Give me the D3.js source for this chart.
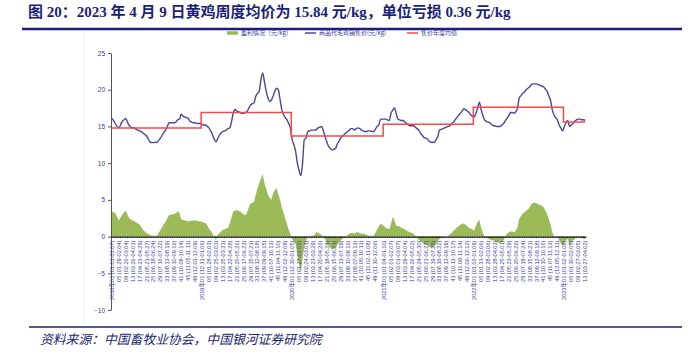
<!DOCTYPE html>
<html>
<head>
<meta charset="utf-8">
<script src="https://cdn.jsdelivr.net/npm/d3@7"></script>
<style>
  body { margin: 0; background: #fff; }
  svg { display: block; }
</style>
</head>
<body>
<svg class="chart"></svg>
<script>
// Weekly data, first week = ISO week 1 of 2018 (Mon 2018-01-01)
var firstMonday = new Date(2018, 0, 1);

// 商品代毛鸡销售价 (元/kg), one value per week
var price = [
  16.1, 15.8, 15.4, 15.0, 14.8, 15.2, 15.7, 15.9, 16.1, 15.6,
  15.1, 14.9, 14.8, 14.8, 14.6, 14.5, 14.4, 14.3, 14.1, 13.9,
  13.7, 13.3, 12.9, 12.8, 12.8, 12.85, 12.85, 13.1, 13.4, 13.8,
  14.2, 14.5, 15.0, 15.5, 15.5, 15.5, 15.5, 15.6, 15.9, 16.0,
  16.7, 16.4, 16.3, 16.2, 16.1, 15.7, 15.6, 15.5, 15.5, 15.4,
  15.4, 15.4, 15.3, 15.2, 15.2, 15.0, 14.8, 14.4, 13.9, 13.3,
  12.9, 13.3, 13.8, 14.1, 14.3, 14.4, 14.5, 14.7, 14.8, 15.6,
  16.8, 17.3, 17.1, 17.0, 16.9, 16.8, 16.8, 16.9, 17.0, 17.5,
  17.9, 18.1, 18.2, 19.1, 19.5, 19.8, 21.4, 22.3, 21.1, 19.8,
  18.9, 18.4, 18.6, 19.1, 19.8, 20.2, 20.0, 18.7, 17.3, 16.6,
  16.2, 15.9, 15.4, 14.8, 13.2, 12.5, 11.6, 10.0, 9.0, 8.3,
  10.0, 13.2, 13.4, 14.3, 14.4, 14.5, 14.5, 14.5, 14.6, 14.8,
  14.9, 15.0, 14.4, 13.6, 12.9, 12.3, 12.0, 11.8, 11.9, 12.0,
  12.6, 13.0, 13.4, 13.7, 13.9, 14.1, 14.3, 14.5, 14.7, 14.7,
  14.5, 14.7, 14.8, 14.7, 14.5, 14.4, 14.3, 14.3, 14.4, 14.4,
  14.3, 14.3, 14.6, 15.0, 15.2, 16.0, 16.0, 16.0, 16.0, 15.9,
  15.8, 16.8, 17.2, 17.5, 16.8, 16.0, 15.9, 15.8, 15.8, 15.6,
  15.4, 15.2, 15.1, 15.1, 15.1, 14.9, 14.7, 14.5, 14.1, 13.8,
  13.5, 13.4, 13.3, 13.0, 12.85, 12.85, 12.85, 13.2, 13.6, 14.5,
  14.6, 14.7, 14.8, 14.9, 15.0, 15.1, 15.4, 15.6, 15.9, 16.2,
  16.5, 16.8, 17.1, 17.4, 17.3, 17.1, 16.9, 16.6, 16.4, 16.3,
  16.8, 17.5, 18.3, 17.3, 16.5, 15.9, 15.7, 15.6, 15.5, 15.3,
  15.1, 15.1, 15.0, 15.0, 15.0, 15.2, 15.4, 15.8, 16.1, 16.5,
  16.9, 16.9, 16.8, 17.0, 17.5, 18.9, 19.2, 19.5, 19.7, 20.0,
  20.2, 20.4, 20.7, 20.8, 20.8, 20.8, 20.7, 20.6, 20.5, 20.4,
  20.1, 19.8, 19.2, 18.6, 17.3, 16.6, 16.2, 15.9, 15.2, 14.8,
  14.4, 15.0, 15.5, 15.8, 15.0, 15.2, 15.4, 15.7, 15.9, 16.0,
  16.0, 15.9, 15.9, 15.84
];

// 盈利情况 (元/kg), one value per week
var profit = [
  3.4, 3.3, 3.2, 2.7, 2.2, 2.6, 3.0, 3.3, 3.5, 3.0,
  2.5, 2.3, 2.2, 2.1, 1.9, 1.8, 1.6, 1.3, 0.9, 0.7,
  0.5, 0.35, 0.2, 0.1, 0.1, 0.1, 0.1, 0.5, 0.9, 1.3,
  1.7, 2.0, 2.5, 2.9, 3.0, 3.0, 3.1, 3.2, 3.4, 3.2,
  2.35, 2.3, 2.2, 2.15, 2.1, 2.1, 2.2, 2.2, 2.2, 2.2,
  2.1, 2.1, 2.0, 1.9, 1.8, 1.5, 1.1, 0.8, 0.45, 0.0,
  -0.5, 0.2, 0.5, 0.7, 0.9, 1.0, 1.1, 1.2, 1.8, 2.6,
  3.4, 3.5, 3.6, 3.5, 3.4, 3.2, 3.0, 2.9, 3.3, 4.0,
  4.5, 4.6, 4.7, 5.7, 6.5, 7.3, 7.9, 8.5, 7.3, 6.5,
  5.7, 5.3, 5.0, 5.9, 6.3, 6.6, 5.8, 5.0, 4.0, 3.2,
  2.5, 1.7, 0.9, 0.3, -0.3, -0.7, -1.0, -2.5, -3.8, -4.8,
  -3.0, -1.4, -0.6, 0.0, 0.0, 0.1, 0.1, 0.2, 0.65, 0.5,
  0.4, 0.2, -0.1, -0.3, -0.8, -1.2, -1.5, -1.8, -1.7, -1.5,
  -1.1, -0.8, -0.5, -0.3, -0.1, 0.0, 0.2, 0.4, 0.5, 0.5,
  0.4, 0.6, 0.6, 0.5, 0.4, 0.4, 0.3, 0.2, 0.1, 0.1,
  0.1, 0.1, 0.5, 1.0, 1.4, 1.75, 1.6, 1.4, 1.2, 1.1,
  1.0, 1.7, 2.7, 2.2, 1.5, 1.4, 1.4, 1.2, 1.1, 1.0,
  0.8, 0.7, 0.6, 0.5, 0.4, 0.1, -0.1, -0.4, -0.6, -0.8,
  -1.0, -1.1, -1.2, -1.4, -1.5, -1.5, -1.3, -1.0, -0.6, -0.3,
  -0.2, -0.1, 0.0, 0.0, 0.1, 0.3, 0.5, 0.8, 1.0, 1.2,
  1.4, 1.6, 1.7, 1.8, 1.6, 1.4, 1.2, 1.1, 1.0, 0.8,
  1.5, 2.0, 2.3, 1.2, 0.5, 0.0, -0.2, -0.3, -0.4, -0.5,
  -0.5, -0.6, -0.7, -0.8, -0.9, -0.7, -0.5, 0.0, 0.4, 0.6,
  0.7, 0.7, 0.6, 0.8, 1.3, 2.4, 2.8, 3.1, 3.3, 3.5,
  3.7, 4.0, 4.4, 4.6, 4.6, 4.5, 4.4, 4.3, 4.2, 4.0,
  3.6, 3.1, 2.4, 1.7, 0.6, 0.1, 0.0, 0.0, -0.5, -0.9,
  -1.2, -0.8, -0.5, -0.3, -1.2, -0.8, -0.5, -0.3, -0.1, 0.0,
  -0.1, -0.2, -0.3, -0.36
];

// 售价年度均值
var years = ["2018", "2019", "2020", "2021", "2022", "2023"];
var yearAvg = [14.8, 16.9, 13.7, 15.3, 17.6, 15.6];

var yTicks = [-10, -5, 0, 5, 10, 15, 20, 25];

var titleText = "图 20：2023 年 4 月 9 日黄鸡周度均价为 15.84 元/kg，单位亏损 0.36 元/kg";
var sourceText = "资料来源：中国畜牧业协会，中国银河证券研究院";
var legendNames = ["盈利情况（元/kg）", "商品代毛鸡销售价(元/kg)", "售价年度均值"];

var colGreen = "#9bbb59",
  colBlue = "#4b44a3",
  colRed = "#ff4545",
  colNavy = "#1c1f7a",
  colTick = "#3a3a9c";

var W = 700, H = 355;
var svg = d3.select(".chart").attr("width", W).attr("height", H);

// Build the week categories
var fmtYear = d3.timeFormat("%G"),
  fmtWeek = d3.timeFormat("%V"),
  fmtMD = d3.timeFormat("%m.%d");
var weeks = price.map(function(v, i) {
  var d = d3.timeMonday.offset(firstMonday, i);
  return {
    i: i,
    date: d,
    year: fmtYear(d),
    week: +fmtWeek(d),
    price: v,
    profit: profit[i]
  };
});
weeks.forEach(function(w) {
  w.avg = yearAvg[years.indexOf(w.year)];
});

function weekLabel(w) {
  var end = d3.timeDay.offset(w.date, 6);
  var ww = (w.week < 10 ? "0" : "") + w.week;
  return (w.week === 1 ? w.year + "年" : "") + ww + " (" + fmtMD(w.date) + "-" + fmtMD(end) + ")";
}

// Scales
var x = d3.scaleBand()
  .domain(weeks.map(function(d) { return d.i; }))
  .range([111, 586]);
var cx = function(i) { return x(i) + x.bandwidth() / 2; };
var y = d3.scaleLinear().domain([-10, 25]).range([310, 53]);

// Title + rules
svg.append("text")
  .attr("x", 28).attr("y", 17)
  .attr("font-family", "'Liberation Serif', 'Noto Sans CJK SC', serif")
  .attr("font-weight", "bold")
  .attr("font-size", 15)
  .attr("fill", colNavy)
  .text(titleText);
svg.append("line")
  .attr("x1", 22).attr("x2", 682).attr("y1", 29).attr("y2", 29)
  .attr("stroke", colNavy).attr("stroke-width", 2.5);
svg.append("line")
  .attr("x1", 84).attr("x2", 84).attr("y1", 31).attr("y2", 325)
  .attr("stroke", "#f1f1f1").attr("stroke-width", 1);
svg.append("line")
  .attr("x1", 29).attr("x2", 682).attr("y1", 327).attr("y2", 327)
  .attr("stroke", colNavy).attr("stroke-width", 1.5);
svg.append("text")
  .attr("x", 40).attr("y", 344)
  .attr("font-family", "'Noto Sans CJK SC', sans-serif")
  .attr("font-style", "italic")
  .attr("font-size", 12.8)
  .attr("fill", colNavy)
  .text(sourceText);

// Legend
var legend = [
  { name: legendNames[0], color: colGreen, x: 227, w: 3.5 },
  { name: legendNames[1], color: colBlue, x: 305, w: 1.5 },
  { name: legendNames[2], color: colRed, x: 407, w: 1.5 }
];
var lg = svg.selectAll(".legend").data(legend).enter()
  .append("g").attr("class", "legend")
  .attr("transform", function(d) { return "translate(" + d.x + ",33)"; });
lg.append("line")
  .attr("x1", 0).attr("x2", 11)
  .attr("stroke", function(d) { return d.color; })
  .attr("stroke-width", function(d) { return d.w; });
lg.append("text")
  .attr("x", 14).attr("dy", "0.35em")
  .attr("font-family", "'Noto Sans CJK SC', sans-serif")
  .attr("font-size", 6)
  .attr("fill", colTick)
  .text(function(d) { return d.name; });

// Profit area
var area = d3.area()
  .x(function(d) { return cx(d.i); })
  .y0(y(0))
  .y1(function(d) { return y(d.profit); });
svg.append("path")
  .datum(weeks)
  .attr("fill", colGreen)
  .attr("d", area);

// Y axis
var yAxis = svg.append("g")
  .attr("transform", "translate(111,0)")
  .call(d3.axisLeft(y).tickValues(yTicks).tickSize(3).tickPadding(3).tickSizeOuter(0));
yAxis.select(".domain").attr("stroke", "#555");
yAxis.selectAll(".tick line").attr("stroke", "#555");
yAxis.selectAll(".tick text")
  .attr("font-family", "'Liberation Sans', Arial, sans-serif")
  .attr("font-size", 6.5)
  .attr("fill", colTick);

// X axis on the zero line, a tick for each week, a label every 4 weeks
var xAxis = svg.append("g")
  .attr("transform", "translate(0," + y(0) + ")")
  .call(d3.axisBottom(x)
    .tickSize(1.5)
    .tickSizeOuter(0)
    .tickFormat(function(i) {
      var w = weeks[i];
      return ((w.week - 1) % 4 === 0 && w.week !== 53) ? weekLabel(w) : "";
    }));
xAxis.select(".domain").attr("stroke", "#222").attr("stroke-width", 1);
xAxis.selectAll(".tick line").attr("stroke", "#222");
xAxis.selectAll(".tick text")
  .attr("transform", "rotate(-90)")
  .attr("text-anchor", "end")
  .attr("x", -4)
  .attr("y", 0)
  .attr("dy", "0.35em")
  .attr("font-family", "'Liberation Sans', 'Noto Sans CJK SC', sans-serif")
  .attr("font-size", 5.6)
  .attr("fill", colTick);

// Price line
var line = d3.line()
  .x(function(d) { return cx(d.i); })
  .y(function(d) { return y(d.price); })
  .curve(d3.curveMonotoneX);
svg.append("path")
  .datum(weeks)
  .attr("fill", "none")
  .attr("stroke", colBlue)
  .attr("stroke-width", 1.4)
  .attr("d", line);

// Yearly average step line
var avgLine = d3.line()
  .x(function(d) { return cx(d.i); })
  .y(function(d) { return y(d.avg); })
  .curve(d3.curveStep);
svg.append("path")
  .datum(weeks)
  .attr("fill", "none")
  .attr("stroke", colRed)
  .attr("stroke-width", 1.5)
  .attr("d", avgLine);
</script>
</body>
</html>
